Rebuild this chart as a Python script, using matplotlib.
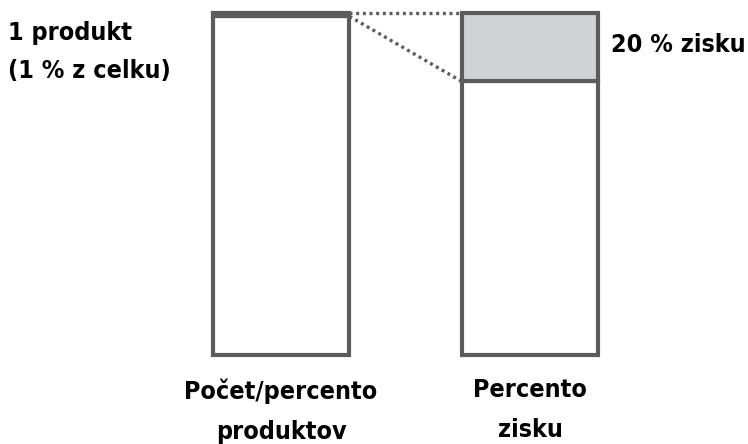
import matplotlib
matplotlib.use('Agg')
import matplotlib.pyplot as plt

plt.rcParams['font.family'] = ['DejaVu Sans']

# data
categories = ['Počet/percento\nproduktov', 'Percento\nzisku']
top_share = [1, 20]          # highlighted part (%)
rest_share = [99, 80]        # remainder (%)
left_note = '1 produkt\n(1 % z celku)'
right_note = '20 % zisku'

edge = '#5c5c5c'
fill = '#d1d2d4'

fig = plt.figure(figsize=(7.48, 4.44), dpi=100)
ax = fig.add_axes([0.2092, 0.2005, 0.6658, 0.7703])

x = [0, 1]
w = 0.55
ax.bar(x, rest_share, width=w, color='white', edgecolor=edge, linewidth=3.0,
       zorder=2, clip_on=False)
ax.bar(x, top_share, width=w, bottom=rest_share, color=fill, edgecolor=edge,
       linewidth=3.0, zorder=2, clip_on=False)

# dotted connectors between the highlighted parts
dots = (0, (0.9, 1.1))
ax.plot([x[0] + w / 2, x[1] - w / 2], [100, 100], linestyle=dots,
        color=edge, linewidth=2.4, zorder=1, clip_on=False)
ax.plot([x[0] + w / 2, x[1] - w / 2], [rest_share[0], rest_share[1]],
        linestyle=dots, color=edge, linewidth=2.4, zorder=1, clip_on=False)

ax.set_xlim(-0.5, 1.5)
ax.set_ylim(0, 100)
ax.axis('off')

font = dict(fontweight='bold', fontstretch='condensed', fontsize=18, color='black')

for xi, lab in zip(x, categories):
    ax.text(xi, -6.8, lab, ha='center', va='top', linespacing=1.85, **font)

fig.text(8 / 748, 1 - 21 / 444, left_note, ha='left', va='top', linespacing=1.75, **font)
ax.text(1 + w / 2 + 0.05, 90.6, right_note, ha='left', va='center', **font)

fig.savefig('out.png', dpi=100)
